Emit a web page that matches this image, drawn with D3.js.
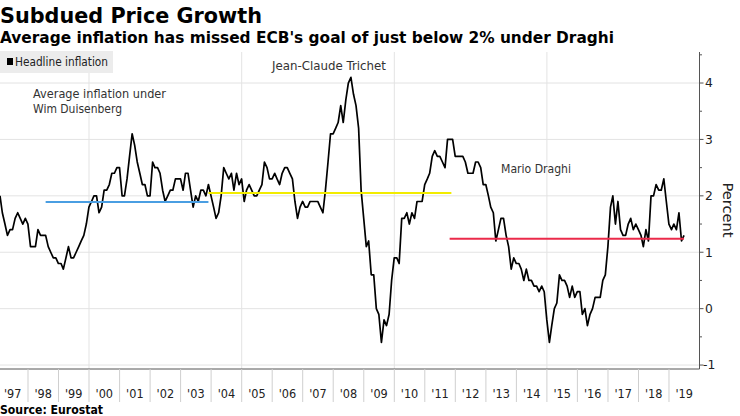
<!DOCTYPE html>
<html><head><meta charset="utf-8">
<script src="https://cdn.jsdelivr.net/npm/d3@7"></script>
<style>
body{margin:0;background:#fff;}
svg{display:block;}
text{font-family:"DejaVu Sans",sans-serif;}
</style></head><body>
<svg id="c" width="740" height="416"></svg>
<script>
// ---- data ----
const startYear = 1997;
const inflation = [
 2.0,1.7,1.5,1.3,1.4,1.4,1.6,1.7,1.6,1.5,1.6,1.5,
 1.1,1.1,1.1,1.4,1.3,1.3,1.3,1.1,1.0,0.9,0.9,0.8,
 0.8,0.7,0.9,1.1,0.9,0.9,1.0,1.1,1.2,1.3,1.5,1.8,
 1.9,2.0,2.0,1.7,1.8,2.1,2.1,2.2,2.4,2.4,2.5,2.5,
 2.0,2.0,2.3,2.7,3.1,2.9,2.6,2.4,2.2,2.2,2.0,2.0,
 2.6,2.5,2.5,2.4,2.1,1.9,2.0,2.1,2.1,2.3,2.3,2.3,
 2.1,2.4,2.4,2.1,1.8,2.0,1.9,2.1,2.1,2.0,2.2,2.0,
 1.8,1.6,1.7,2.0,2.5,2.4,2.3,2.4,2.1,2.4,2.2,2.3,
 1.9,2.1,2.2,2.1,2.0,2.0,2.1,2.2,2.6,2.5,2.3,2.3,
 2.4,2.3,2.2,2.4,2.5,2.5,2.4,2.3,1.9,1.6,1.8,1.9,
 1.8,1.8,1.9,1.9,1.9,1.9,1.8,1.7,2.1,2.6,3.1,3.1,
 3.2,3.3,3.6,3.3,3.7,4.0,4.1,3.8,3.6,3.2,2.1,1.6,
 1.1,1.2,0.6,0.6,0.0,-0.1,-0.6,-0.2,-0.3,-0.1,0.5,0.9,
 0.9,0.8,1.6,1.6,1.7,1.5,1.7,1.6,1.9,1.9,1.9,2.2,
 2.3,2.4,2.7,2.8,2.7,2.7,2.6,2.5,3.0,3.0,3.0,2.7,
 2.7,2.7,2.7,2.6,2.4,2.4,2.4,2.6,2.6,2.5,2.2,2.2,
 2.0,1.8,1.7,1.2,1.4,1.6,1.6,1.3,1.1,0.7,0.9,0.8,
 0.8,0.7,0.5,0.7,0.5,0.5,0.4,0.4,0.3,0.4,0.3,-0.2,
 -0.6,-0.3,0.0,0.1,0.6,0.5,0.5,0.4,0.2,0.4,0.2,0.3,
 0.3,-0.1,0.0,-0.3,-0.1,0.0,0.2,0.2,0.2,0.5,0.6,1.1,
 1.8,2.0,1.5,1.9,1.4,1.3,1.3,1.5,1.6,1.4,1.5,1.4,
 1.3,1.1,1.4,1.2,2.0,2.0,2.2,2.1,2.1,2.3,1.9,1.5,
 1.4,1.5,1.4,1.7,1.2,1.3
];
const eraNames  = ["Wim Duisenberg","Jean-Claude Trichet","Mario Draghi"];
const eraStart  = ["1998-07-31","2003-11-30","2011-10-25"];
const eraEnd    = ["2003-11-30","2011-11-15","2019-06-30"];
const eraAvg    = [1.89, 2.05, 1.24];
const eraColors = ["#4a9ee2","#f2ec00","#eb2a4a"];
const yTicks = [-1,0,1,2,3,4];
const yMinorTicks = [-0.5,0.5,1.5,2.5,3.5,4.5];
const yearLabels = ["'97","'98","'99","'00","'01","'02","'03","'04","'05","'06","'07","'08","'09","'10","'11","'12","'13","'14","'15","'16","'17","'18","'19"];
const gridYears = [2000,2005,2010,2015];

// ---- chart ----
const svg = d3.select("#c");
const L = 0, R = 699.5, T = 52, B = 369;
const x = d3.scaleUtc().domain([Date.UTC(1997,0,1), Date.UTC(2020,0,1)]).range([-2.5, 699.5]);
const y = d3.scaleLinear().domain([-1.07, 4.55]).range([B, T]);
const series = inflation.map((v,i)=>({date:new Date(Date.UTC(startYear, i+1, 0)), v}));

function fit(sel, w){ sel.attr("textLength", w).attr("lengthAdjust","spacingAndGlyphs"); return sel; }

// title
fit(svg.append("text").attr("x",0).attr("y",23).attr("font-size",20.5).attr("font-weight","bold").attr("fill","#000").text("Subdued Price Growth"),262);
fit(svg.append("text").attr("x",0).attr("y",43).attr("font-size",15).attr("font-weight","bold").attr("fill","#000").text("Average inflation has missed ECB's goal of just below 2% under Draghi"),614);

// gridlines
svg.append("g").selectAll("line").data(yTicks).join("line")
  .attr("x1",L).attr("x2",R).attr("y1",d=>y(d)).attr("y2",d=>y(d))
  .attr("stroke","#e3e3e3").attr("stroke-width",1);
svg.append("g").selectAll("line").data(gridYears).join("line")
  .attr("x1",d=>x(Date.UTC(d,0,1))).attr("x2",d=>x(Date.UTC(d,0,1))).attr("y1",T).attr("y2",B)
  .attr("stroke","#e3e3e3").attr("stroke-width",1);

// legend
svg.append("rect").attr("x",0).attr("y",51).attr("width",113).attr("height",22).attr("fill","#ececec");
svg.append("rect").attr("x",7).attr("y",58).attr("width",6).attr("height",7).attr("fill","#000");
fit(svg.append("text").attr("x",15).attr("y",66).attr("font-size",11.5).attr("fill","#222").text("Headline inflation"),93);

// inflation line
svg.append("path").datum(series)
  .attr("fill","none").attr("stroke","#000").attr("stroke-width",1.7).attr("stroke-linejoin","round")
  .attr("d", d3.line().x(d=>x(d.date)).y(d=>y(d.v)));

// era averages
const eras = eraAvg.map((v,i)=>({v, s:new Date(eraStart[i]), e:new Date(eraEnd[i]), c:eraColors[i]}));
svg.append("g").selectAll("line").data(eras).join("line")
  .attr("x1",d=>x(d.s)).attr("x2",d=>x(d.e)).attr("y1",d=>y(d.v)).attr("y2",d=>y(d.v))
  .attr("stroke",d=>d.c).attr("stroke-width",2);

// annotations
fit(svg.append("text").attr("x",33).attr("y",97.5).attr("font-size",12.3).attr("fill","#333").text("Average inflation under"),133);
fit(svg.append("text").attr("x",33).attr("y",112.5).attr("font-size",12.3).attr("fill","#333").text(eraNames[0]),89);
fit(svg.append("text").attr("x",272).attr("y",70).attr("font-size",12.3).attr("fill","#333").text(eraNames[1]),114);
fit(svg.append("text").attr("x",501).attr("y",172.5).attr("font-size",12.3).attr("fill","#333").text(eraNames[2]),70);

// x axis
svg.append("line").attr("x1",L).attr("x2",R).attr("y1",B).attr("y2",B).attr("stroke","#555").attr("stroke-width",1);
const years = d3.range(1998, 2020);
svg.append("g").selectAll("line").data(years).join("line")
  .attr("x1",d=>x(Date.UTC(d,0,1))).attr("x2",d=>x(Date.UTC(d,0,1))).attr("y1",B).attr("y2",402)
  .attr("stroke","#cfcfcf").attr("stroke-width",1);
svg.append("g").selectAll("text").data(yearLabels).join("text")
  .attr("x",(d,i)=>(x(Date.UTC(1997+i,0,1))+x(Date.UTC(1998+i,0,1)))/2)
  .attr("y",397.5).attr("text-anchor","middle").attr("font-size",12).attr("fill","#222")
  .attr("textLength",17.5).attr("lengthAdjust","spacingAndGlyphs")
  .text(d=>d);

// y axis (right)
svg.append("line").attr("x1",R).attr("x2",R).attr("y1",T).attr("y2",B).attr("stroke","#555").attr("stroke-width",1);
svg.append("g").selectAll("line").data(yTicks).join("line")
  .attr("x1",R).attr("x2",R+4).attr("y1",d=>y(d)).attr("y2",d=>y(d)).attr("stroke","#555");
svg.append("g").selectAll("line").data(yMinorTicks).join("line")
  .attr("x1",R).attr("x2",R+2.5).attr("y1",d=>y(d)).attr("y2",d=>y(d)).attr("stroke","#555");
svg.append("g").selectAll("text").data(yTicks).join("text")
  .attr("x",d=>d<0?703:705).attr("y",d=>y(d)).attr("dy","0.36em").attr("font-size",12.3).attr("fill","#222")
  .text(d=>d);
fit(svg.append("text").attr("transform","translate(723,210) rotate(90)").attr("text-anchor","middle")
  .attr("font-size",14.5).attr("fill","#222").text("Percent"),55);

// source
fit(svg.append("text").attr("x",0).attr("y",414).attr("font-size",12.3).attr("font-weight","bold").attr("fill","#000").text("Source:  Eurostat"),103);
</script>
</body></html>
